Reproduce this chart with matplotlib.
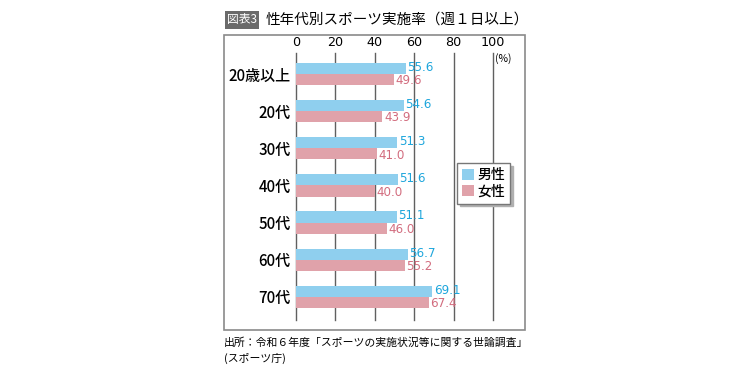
import matplotlib.pyplot as plt
from matplotlib.patches import Rectangle

plt.rcParams['font.family'] = ['Noto Sans CJK JP', 'DejaVu Sans']

categories = ['20歳以上', '20代', '30代', '40代', '50代', '60代', '70代']
male = [55.6, 54.6, 51.3, 51.6, 51.1, 56.7, 69.1]
female = [49.6, 43.9, 41.0, 40.0, 46.0, 55.2, 67.4]
xticks = [0, 20, 40, 60, 80, 100]

blue_bar = '#8fcfee'
pink_bar = '#e0a2aa'
blue_txt = '#1ea6dc'
pink_txt = '#d26c7e'
grid_c = '#606060'

W, H = 750, 375
fig = plt.figure(figsize=(7.5, 3.75), dpi=100)

# outer frame
fig.patches.append(Rectangle((224 / W, 1 - 330 / H), 301 / W, 295 / H,
                             transform=fig.transFigure, fill=False,
                             edgecolor='#8a8a8a', linewidth=1.2))

ax = fig.add_axes([296 / W, 1 - 320 / H, 197 / W, 267 / H])
y = range(len(categories))
h = 0.3
ax.barh([i - h / 2 for i in y], male, height=h, color=blue_bar, zorder=3)
ax.barh([i + h / 2 for i in y], female, height=h, color=pink_bar, zorder=3)

for i in y:
    ax.text(male[i] + 0.8, i - h / 2 - 0.03, f'{male[i]:.1f}',
            color=blue_txt, fontsize=8.6, family='DejaVu Sans',
            va='center', ha='left', zorder=4)
    ax.text(female[i] + 0.8, i + h / 2 + 0.03, f'{female[i]:.1f}',
            color=pink_txt, fontsize=8.6, family='DejaVu Sans',
            va='center', ha='left', zorder=4)

ax.set_xlim(0, 100)
ax.set_ylim(6.62, -0.565)
ax.set_xticks(xticks)
ax.set_xticklabels([str(t) for t in xticks], family='DejaVu Sans',
                   fontsize=9.2)
ax.xaxis.tick_top()
ax.tick_params(axis='x', length=0, pad=3)
ax.set_yticks(list(y))
ax.set_yticklabels(categories, fontsize=10.8, fontweight='medium')
ax.tick_params(axis='y', length=0, pad=4)
ax.grid(axis='x', color=grid_c, linewidth=1, zorder=1)
for gl in ax.get_xgridlines():
    gl.set_clip_on(False)
for s in ax.spines.values():
    s.set_visible(False)

ax.text(101, -0.42, '(%)', fontsize=7.5, ha='left', va='center')

leg = ax.legend(['男性', '女性'], loc='upper left',
                bbox_to_anchor=(457 / W, 1 - 163 / H),
                bbox_transform=fig.transFigure, borderaxespad=0,
                prop={'size': 10, 'weight': 'medium'},
                handlelength=0.85, handleheight=0.85, handletextpad=0.25,
                borderpad=0.35, labelspacing=0.2, fancybox=False,
                shadow={'color': '#b0b0b0', 'alpha': 1}, framealpha=1,
                edgecolor='#777777')
leg.get_frame().set_linewidth(1)

# title
fig.text(227 / W, 1 - 20 / H, '図表3', fontsize=8.5, color='white',
         va='center', ha='left',
         bbox=dict(boxstyle='square,pad=0.2', facecolor='#6a6a6a',
                   edgecolor='none'))
fig.text(266 / W, 1 - 20 / H, '性年代別スポーツ実施率（週１日以上）',
         fontsize=10.5, va='center', ha='left')

# source
fig.text(224 / W, 1 - 343 / H,
         '出所：令和６年度「スポーツの実施状況等に関する世論調査」',
         fontsize=7.8, va='center', ha='left')
fig.text(224 / W, 1 - 358 / H, '(スポーツ庁)', fontsize=7.8,
         va='center', ha='left')

fig.savefig('out.png', dpi=100)
